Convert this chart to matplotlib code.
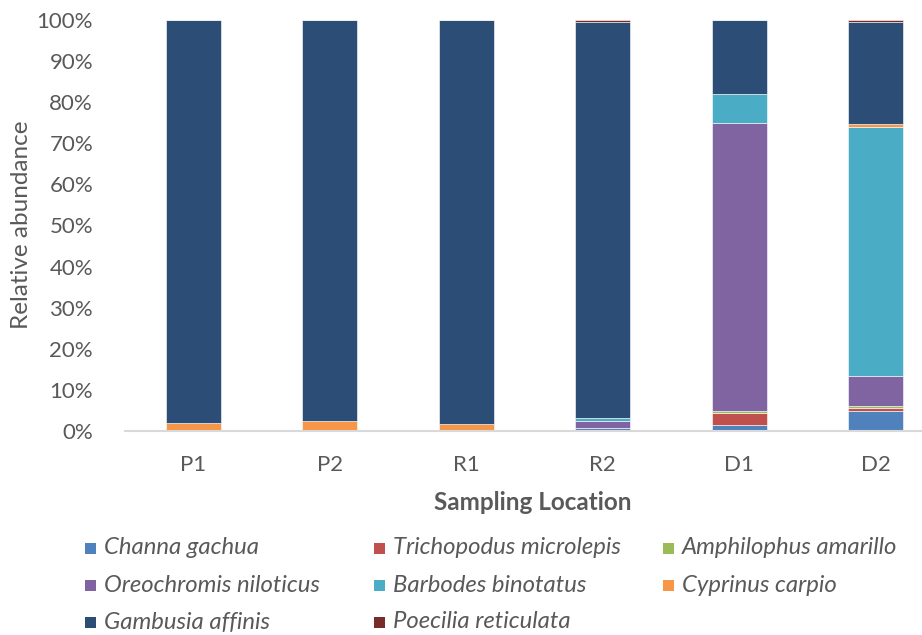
import matplotlib
matplotlib.use("Agg")
import matplotlib.pyplot as plt
from matplotlib.patches import Rectangle
from matplotlib.ticker import PercentFormatter

plt.rcParams['font.family'] = ['Lato', 'DejaVu Sans']

locations = ["P1", "P2", "R1", "R2", "D1", "D2"]
species = ["Channa gachua", "Trichopodus microlepis", "Amphilophus amarillo",
           "Oreochromis niloticus", "Barbodes binotatus", "Cyprinus carpio",
           "Gambusia affinis", "Poecilia reticulata"]
colors = ["#4F81BD", "#C0504D", "#9BBB59", "#8064A2", "#4BACC6", "#F79646",
          "#2C4D75", "#772C2A"]

channa = [0.0, 0.0, 0.0, 0.7, 1.4, 4.9]
trichopodus = [0.0, 0.0, 0.0, 0.0, 3.1, 0.7]
amphilophus = [0.0, 0.0, 0.0, 0.0, 0.3, 0.4]
oreochromis = [0.0, 0.0, 0.0, 1.7, 70.1, 7.4]
barbodes = [0.0, 0.0, 0.0, 0.7, 7.2, 60.5]
cyprinus = [1.9, 2.4, 1.6, 0.0, 0.0, 0.7]
gambusia = [98.1, 97.6, 98.4, 96.4, 17.9, 24.9]
poecilia = [0.0, 0.0, 0.0, 0.5, 0.0, 0.5]

series = [channa, trichopodus, amphilophus, oreochromis, barbodes, cyprinus,
          gambusia, poecilia]

W, H = 922, 635
fig = plt.figure(figsize=(W / 100, H / 100), dpi=100)
ax = fig.add_axes([125 / W, 1 - 431 / H, (W - 125) / W, (431 - 20) / H])

x = list(range(len(locations)))
bottom = [0.0] * len(locations)
for name, vals, c in zip(species, series, colors):
    ax.bar(x, vals, width=0.40, bottom=bottom, color=c, edgecolor='white',
           linewidth=0.4, label=name, zorder=2)
    bottom = [b + v for b, v in zip(bottom, vals)]

gray = "#595959"
ax.set_ylim(0, 100)
ax.set_xlim(-0.5, 5.5 - 22 / 136.4)
ax.set_yticks(range(0, 101, 10))
ax.yaxis.set_major_formatter(PercentFormatter(decimals=0))
ax.set_xticks(x)
ax.set_xticklabels(locations)
ax.tick_params(axis='both', length=0, labelsize=16, colors=gray)
ax.tick_params(axis='x', pad=17)
ax.tick_params(axis='y', pad=23)
for s in ['top', 'right', 'left']:
    ax.spines[s].set_visible(False)
ax.spines['bottom'].set_color('#D9D9D9')
ax.spines['bottom'].set_linewidth(1.5)
ax.spines['bottom'].set_zorder(3)

fig.text(22 / W, 1 - 225 / H, "Relative abundance", fontsize=17.5, color=gray,
         rotation=90, ha='center', va='center')
fig.text(533 / W, 1 - 503 / H, "Sampling Location", fontsize=17.5,
         fontweight='bold', color=gray, ha='center', va='center')

# legend laid out row-wise, three columns
col_x = [85, 374, 663]
row_y = [548, 585, 622]
sq = 11
for i, (name, c) in enumerate(zip(species, colors)):
    r, k = divmod(i, 3)
    fig.patches.append(Rectangle((col_x[k] / W, 1 - (row_y[r] + sq / 2) / H),
                                 sq / W, sq / H, facecolor=c, edgecolor='none',
                                 transform=fig.transFigure, figure=fig))
    fig.text((col_x[k] + 19) / W, 1 - row_y[r] / H, name, fontsize=17.2,
             style='italic', color=gray, ha='left', va='center')

fig.savefig("out.png", dpi=100)
